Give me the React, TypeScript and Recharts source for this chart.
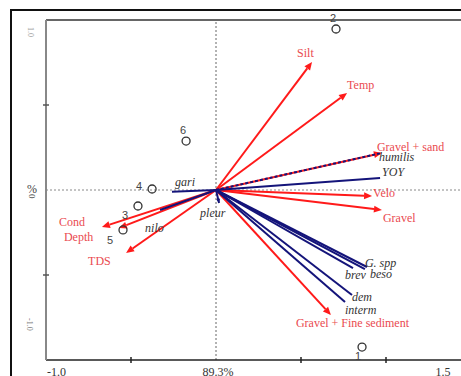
import { ReferenceLine, Scatter, ScatterChart, XAxis, YAxis } from "recharts";

// environmental vectors (CCA biplot scores)
const envNames = ["Silt", "Temp", "Gravel + sand", "Velo", "Gravel", "Gravel + Fine sediment", "Cond", "Depth", "TDS"];
const envX = [0.565, 0.771, 0.976, 0.918, 0.976, 0.676, -0.671, -0.571, -0.529];
const envY = [0.753, 0.571, 0.218, -0.035, -0.118, -0.735, -0.218, -0.224, -0.371];

// species vectors
const sppNames = ["humilis", "YOY", "gari", "pleur", "nilo", "G. spp", "beso", "brev", "dem", "interm"];
const sppX = [0.976, 0.965, -0.259, 0.018, -0.329, 0.888, 0.876, 0.806, 0.8, 0.759];
const sppY = [0.218, 0.071, -0.01, -0.076, -0.118, -0.453, -0.465, -0.459, -0.618, -0.659];

// sites
const siteNames = ["1", "2", "3", "4", "5", "6"];
const siteX = [0.859, 0.706, -0.459, -0.376, -0.547, -0.176];
const siteY = [-0.924, 0.947, -0.094, 0.006, -0.235, 0.288];

const xTicks = [-1, -0.5, 0, 0.5, 1, 1.5];
const yTicks = [-1, -0.5, 0, 0.5, 1];

// label placement, px from the arrow tip / site
const labelOffset: Record<string, [number, number]> = {
  Silt: [-15, -9],
  Temp: [0, -8],
  "Gravel + sand": [-5, -6],
  Velo: [1, -3],
  Gravel: [1, 8],
  "Gravel + Fine sediment": [-35, 8],
  Cond: [-43, -5],
  Depth: [-55, 9],
  TDS: [-38, 8],
  humilis: [-3, 4],
  YOY: [2, -6],
  gari: [3, -10],
  pleur: [-19, 10],
  nilo: [-15, 18],
  "G. spp": [-2, -4],
  beso: [5, 5],
  brev: [-8, 7],
  dem: [0, 2],
  interm: [0, 8],
  "1": [-4, 9],
  "2": [-3, -11],
  "3": [-13, 9],
  "4": [-13, -3],
  "5": [-13, 10],
  "6": [-3, -11],
};

const sites = siteNames.map((name, i) => ({ name, x: siteX[i], y: siteY[i] }));

const RED = "#ff1a1a";
const RED_TEXT = "#ea4a4f";
const NAVY = "#14147a";
const serif = "'Liberation Serif', 'Times New Roman', serif";

function arrowShape(name: string, kind: "env" | "spp", dashed = false) {
  return (p: any) => {
    const { x1, y1, x2, y2 } = p;
    if (x1 == null || x2 == null) return <g />;
    const ang = Math.atan2(y2 - y1, x2 - x1);
    const color = kind === "env" ? RED : NAVY;
    const hl = kind === "env" ? 8 : 4;
    const hw = kind === "env" ? 3.5 : 2;
    const bx = x2 - hl * Math.cos(ang);
    const by = y2 - hl * Math.sin(ang);
    const px = -Math.sin(ang) * hw;
    const py = Math.cos(ang) * hw;
    const [dx, dy] = labelOffset[name] || [0, 0];
    return (
      <g>
        <line
          x1={x1}
          y1={y1}
          x2={kind === "env" ? bx : x2}
          y2={kind === "env" ? by : y2}
          stroke={color}
          strokeWidth={2}
          strokeDasharray={dashed ? "3 2" : undefined}
        />
        {kind === "env" && (
          <polygon points={`${x2},${y2} ${bx + px},${by + py} ${bx - px},${by - py}`} fill={color} />
        )}
        {kind === "spp" && name === "pleur" && (
          <polygon points={`${x2},${y2} ${bx + px},${by + py} ${bx - px},${by - py}`} fill={color} />
        )}
        <text
          x={x2 + dx}
          y={y2 + dy + 4}
          fontFamily={serif}
          fontSize={12}
          fontStyle={kind === "spp" ? "italic" : "normal"}
          fill={kind === "env" ? RED_TEXT : "#333"}
        >
          {name}
        </text>
      </g>
    );
  };
}

function SiteMark(p: any) {
  const { cx, cy, payload } = p;
  const [dx, dy] = labelOffset[payload.name] || [0, -10];
  return (
    <g>
      <circle cx={cx} cy={cy} r={4} fill="none" stroke="#333" strokeWidth={1.3} />
      <text
        x={cx + dx}
        y={cy + dy + 4}
        textAnchor="middle"
        fontFamily="'Liberation Sans', Arial, sans-serif"
        fontSize={11}
        fill="#444"
      >
        {payload.name}
      </text>
    </g>
  );
}

function XTick(p: any) {
  const { x, y, payload } = p;
  const v = payload.value;
  let label = "";
  let lx = x;
  let anchor: "start" | "middle" = "middle";
  if (v === -1) {
    label = "-1.0";
    lx = x + 1;
    anchor = "start";
  } else if (v === 0) {
    label = "89.3%";
    lx = x + 2;
  } else if (v === 1.5) {
    label = "1.5";
    lx = x - 28;
  }
  const mark = v === -0.5 || v === 0.5 || v === 1;
  return (
    <g>
      {mark && <line x1={x} y1={y - 3} x2={x} y2={y + 3} stroke="#222" strokeWidth={1.5} />}
      {label && (
        <text x={lx} y={y + 16} textAnchor={anchor} fontFamily={serif} fontSize={12} fill="#333">
          {label}
        </text>
      )}
    </g>
  );
}

function YTick(p: any) {
  const { x, y, payload } = p;
  const v = payload.value;
  const ax = x;
  return (
    <g>
      {(v === 0.5 || v === -0.5) && (
        <line x1={ax - 3} y1={y} x2={ax + 3} y2={y} stroke="#555" strokeWidth={1.5} />
      )}
      {v === 1 && (
        <text
          x={0}
          y={0}
          transform={`translate(${ax - 18}, ${y + 7}) rotate(90)`}
          fontFamily={serif}
          fontSize={8}
          fill="#999"
        >
          1.0
        </text>
      )}
      {v === 0 && (
        <g>
          <text x={ax - 14} y={y + 3} textAnchor="middle" fontFamily={serif} fontSize={12} fill="#444">
            %
          </text>
          <text
            x={0}
            y={0}
            transform={`translate(${ax - 17}, ${y + 4}) rotate(90)`}
            fontFamily={serif}
            fontSize={9}
            fill="#555"
          >
            0
          </text>
        </g>
      )}
      {v === -1 && (
        <text
          x={0}
          y={0}
          transform={`translate(${ax - 19}, ${y - 42}) rotate(90)`}
          fontFamily={serif}
          fontSize={8}
          fill="#777"
        >
          -1.0
        </text>
      )}
    </g>
  );
}

export default function App() {
  return (
    <div
      style={{
        position: "absolute",
        left: 0,
        top: 0,
        width: 461,
        height: 376,
        overflow: "hidden",
        background: "#fff",
      }}
    >
      <div
        style={{
          position: "absolute",
          left: 10,
          top: 9,
          width: 600,
          height: 600,
          borderLeft: "2px solid #111",
          borderTop: "2px solid #111",
        }}
      />
      <div style={{ position: "absolute", left: 0, top: 0 }}>
        <ScatterChart width={480} height={376} margin={{ top: 20, right: 9, bottom: 0, left: 0 }}>
          <XAxis
            type="number"
            dataKey="x"
            domain={[-1, 1.5]}
            ticks={xTicks}
            height={16}
            tickSize={0}
            tickMargin={0}
            tickLine={false}
            axisLine={{ stroke: "#222", strokeWidth: 1.5 }}
            tick={<XTick />}
            interval={0}
          />
          <YAxis
            type="number"
            dataKey="y"
            domain={[-1, 1]}
            ticks={yTicks}
            width={46}
            tickSize={0}
            tickMargin={0}
            tickLine={false}
            axisLine={{ stroke: "#888", strokeWidth: 2 }}
            tick={<YTick />}
            interval={0}
          />
          <ReferenceLine y={1} stroke="#333" strokeWidth={1.5} />
          <ReferenceLine x={0} stroke="#666" strokeDasharray="2 2" />
          <ReferenceLine y={0} stroke="#888" strokeDasharray="2 2" />
          {envNames.map((name, i) => (
            <ReferenceLine
              key={name}
              segment={[
                { x: 0, y: 0 },
                { x: envX[i], y: envY[i] },
              ]}
              shape={arrowShape(name, "env")}
            />
          ))}
          {sppNames.map((name, i) => (
            <ReferenceLine
              key={name}
              segment={[
                { x: 0, y: 0 },
                { x: sppX[i], y: sppY[i] },
              ]}
              shape={arrowShape(name, "spp", name === "humilis")}
            />
          ))}
          <Scatter data={sites} shape={<SiteMark />} isAnimationActive={false} />
        </ScatterChart>
      </div>
    </div>
  );
}
